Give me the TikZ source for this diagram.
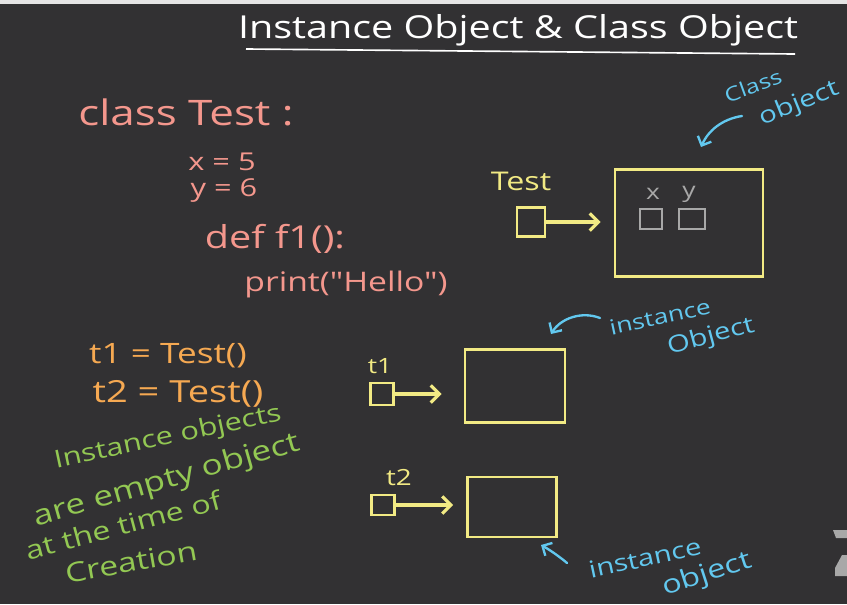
\documentclass[tikz,border=0pt]{standalone}
\usepackage{fontspec}
\setmainfont{Open Sans}
\newfontfamily\handfont[FakeStretch=1.25]{Open Sans}
\usetikzlibrary{arrows.meta}
\definecolor{board}{HTML}{323133}
\definecolor{chalkpink}{HTML}{F4978D}
\definecolor{chalkorange}{HTML}{F6A952}
\definecolor{chalkyellow}{HTML}{F2EA84}
\definecolor{chalkblue}{HTML}{62C8EF}
\definecolor{chalkgreen}{HTML}{93C853}
\definecolor{chalkgray}{HTML}{A8A8A8}
\tikzset{
  txt/.style={inner sep=0pt, font=\handfont\fontsize{#1}{#1}\selectfont},
  objbox/.style={draw=chalkyellow, line width=2.5pt, inner sep=0pt},
  ptrbox/.style={draw=chalkyellow, line width=2.2pt, inner sep=0pt},
  slotbox/.style={draw=chalkgray, line width=1.6pt, inner sep=0pt},
  ptrarrow/.style={chalkyellow, line width=2.6pt, line cap=round, -{Straight Barb[length=2.6mm,width=5.2mm]}},
  notearrow/.style={chalkblue, line width=2pt, line cap=round, -{Straight Barb[length=2.2mm,width=4.4mm]}},
}
\begin{document}
\begin{tikzpicture}[x=0.03cm,y=-0.03cm]
\fill[board] (0,0) rectangle (847,604);
\fill[gray!20] (0,0) rectangle (847,4);
\fill[chalkgray] (833,530) -- (847,530) -- (847,538) -- (836,538) -- cycle;
\fill[chalkgray] (842,555) -- (847,555) -- (847,576) -- (835,576) -- (835,568) -- cycle;
% title
\node[txt=27pt, white] (title) at (518,30) {Instance Object \& Class Object};
\draw[white, line width=1.4pt] (246,49) -- (795,54);
% class code
\node[txt=30pt, chalkpink] (clsdef) at (186,112) {class Test :};
\node[txt=21pt, chalkpink] (xdef) at (222,162) {x = 5};
\node[txt=21pt, chalkpink] (ydef) at (224,191) {y = 6};
\node[txt=27pt, chalkpink] (fdef) at (275,239) {def f1():};
\node[txt=23pt, chalkpink] (pdef) at (346,284) {print("Hello")};
% class object
\node[txt=22pt, chalkyellow] (tname) at (521,181) {Test};
\node[ptrbox, minimum width=0.84cm, minimum height=0.87cm] (tptr) at (531,222) {};
\node[objbox, minimum width=4.44cm, minimum height=3.21cm] (cls) at (689,223) {};
\node[txt=18pt, chalkgray] (xlbl) at (653,194) {x};
\node[txt=18pt, chalkgray] (ylbl) at (689,194) {y};
\node[slotbox, minimum width=0.66cm, minimum height=0.6cm] (xslot) at (651,219) {};
\node[slotbox, minimum width=0.78cm, minimum height=0.6cm] (yslot) at (692,219) {};
\draw[ptrarrow, shorten >=0.39cm] (tptr.east) -- (tptr.east -| cls.west);
\node[txt=17pt, chalkblue, rotate=20] (clsnote) at (753,86) {Class};
\node[txt=20pt, chalkblue, rotate=22] (objnote) at (799,104) {object};
\coordinate (clstail) at (742,116);
\coordinate (clstip) at (701,147);
\draw[notearrow] (clstail) .. controls (722,119) and (708,131) .. (clstip);
% instances
\node[txt=24pt, chalkorange] (t1def) at (168,356) {t1 = Test()};
\node[txt=26pt, chalkorange] (t2def) at (178,394) {t2 = Test()};
\node[txt=18pt, chalkyellow] (t1name) at (380,366) {t1};
\node[ptrbox, minimum width=0.69cm, minimum height=0.66cm] (t1ptr) at (382,394) {};
\node[objbox, minimum width=3.0cm, minimum height=2.19cm] (t1obj) at (515,386) {};
\draw[ptrarrow, shorten >=0.66cm] (t1ptr.east) -- (t1ptr.east -| t1obj.west);
\node[txt=19pt, chalkyellow] (t2name) at (399,478) {t2};
\node[ptrbox, minimum width=0.69cm, minimum height=0.6cm] (t2ptr) at (383,505) {};
\node[objbox, minimum width=2.67cm, minimum height=1.8cm] (t2obj) at (512,507) {};
\draw[ptrarrow, shorten >=0.39cm] (t2ptr.east) -- (t2ptr.east -| t2obj.west);
% instance notes
\node[txt=18pt, chalkblue, rotate=12] (inst1) at (660,317) {instance};
\node[txt=20pt, chalkblue, rotate=15] (obj1) at (711,337) {Object};
\coordinate (inst1tail) at (600,318);
\coordinate (inst1tip) at (551,334);
\draw[notearrow] (inst1tail) .. controls (582,311) and (561,318) .. (inst1tip);
\node[txt=20pt, chalkblue, rotate=12] (inst2) at (645,558) {instance};
\node[txt=22pt, chalkblue, rotate=18] (obj2) at (707,575) {object};
\coordinate (inst2tail) at (567,563);
\coordinate (inst2tip) at (541,545);
\draw[notearrow] (inst2tail) .. controls (560,557) and (550,550) .. (inst2tip);
% remark
\node[txt=21pt, chalkgreen, rotate=12] (rem1) at (168,438) {Instance objects};
\node[txt=24pt, chalkgreen, rotate=16] (rem2) at (167,481) {are empty object};
\node[txt=22pt, chalkgreen, rotate=15] (rem3) at (123,525) {at the time of};
\node[txt=23pt, chalkgreen, rotate=10] (rem4) at (131,562) {Creation};
\end{tikzpicture}
\end{document}
